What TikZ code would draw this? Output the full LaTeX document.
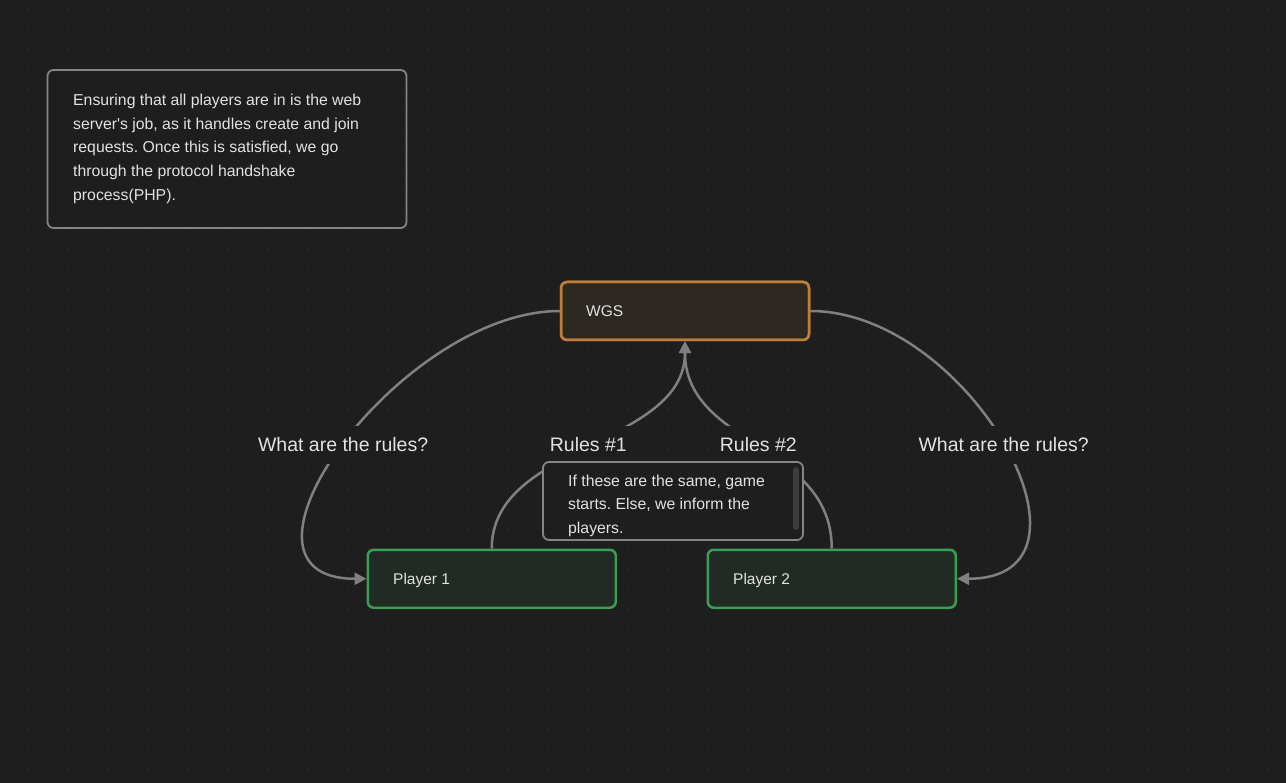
\documentclass[tikz,border=0pt]{standalone}
\usepackage{fontspec}
\setmainfont{Liberation Sans}
\usetikzlibrary{arrows.meta}
\frenchspacing
\definecolor{bg}{HTML}{1E1E1E}
\definecolor{dotc}{HTML}{303030}
\definecolor{edgec}{HTML}{808080}
\definecolor{notec}{HTML}{858585}
\definecolor{txt}{HTML}{E2E2E2}
\definecolor{wgsfill}{HTML}{2D2822}
\definecolor{wgsline}{HTML}{C07D38}
\definecolor{plfill}{HTML}{212B24}
\definecolor{plline}{HTML}{3A9F55}
\definecolor{scrollc}{HTML}{3C3C3C}
\tikzset{
  boxnode/.style={rounded corners=6pt, line width=2.5pt, minimum width=248pt, minimum height=58pt, inner sep=0pt},
  wgsbox/.style={boxnode, draw=wgsline, fill=wgsfill},
  plbox/.style={boxnode, draw=plline, fill=plfill},
  notebox/.style={rounded corners=6pt, line width=1.8pt, draw=notec, fill=bg, inner sep=0pt},
  boxtext/.style={text=txt, font=\fontsize{15.5}{18}\selectfont, anchor=base west, inner sep=0pt},
  notetext/.style={text=txt, font=\fontsize{15.8}{23.7}\selectfont, align=left, anchor=base west, inner sep=0pt},
  lbl/.style={text=txt, font=\fontsize{19.5}{22}\selectfont, fill=bg, inner xsep=6pt, inner ysep=12pt},
  conn/.style={draw=edgec, line width=2.5pt},
  tip/.style={-{Triangle[length=12pt,width=12pt]}},
}
\begin{document}
\begin{tikzpicture}[x=1pt,y=-1pt]
\fill[bg] (0,0) rectangle (1286,783);
\useasboundingbox (0,0) rectangle (1286,783);
\foreach \i in {0,...,64} {\foreach \j in {0,...,38} {\fill[dotc] (8+20*\i,9+20*\j) circle (0.8);}}
% nodes
\node[wgsbox] (wgs) at (685,311) {};
\node[boxtext] (wgst) at (586,316.5) {WGS};
\node[plbox] (p1) at (491.75,578.75) {};
\node[boxtext] (p1t) at (393,584.5) {Player 1};
\node[plbox] (p2) at (831.75,578.75) {};
\node[boxtext] (p2t) at (733,584.5) {Player 2};
% edges
\draw[conn,tip] (wgs.west) .. controls +(-160,0) and +(-160,0) .. node[lbl] (l1) {What are the rules?} (p1.west);
\draw[conn,tip] (wgs.east) .. controls +(160,0) and +(160,0) .. node[lbl] (l4) {What are the rules?} (p2.east);
\draw[conn,tip] (p1.north) .. controls +(0,-105) and +(0,105) .. node[lbl] (l2) {Rules \#1} (wgs.south);
\draw[conn,tip] (p2.north) .. controls +(0,-105) and +(0,105) .. node[lbl] (l3) {Rules \#2} (wgs.south);
% redraw node border on top of arrow tips
\node[wgsbox, fill=none] (wgsb) at (685,311) {};
% notes
\node[notebox, minimum width=359pt, minimum height=158pt] (n1) at (227,149) {};
\node[notetext] (n1t) at (73,200.3) {Ensuring that all players are in is the web\\server\textquotesingle s job, as it handles create and join\\requests. Once this is satisfied, we go\\through the protocol handshake\\process(PHP).};
\node[notebox, minimum width=260pt, minimum height=78pt] (n2) at (673,501) {};
\node[notetext] (n2t) at (568,533.5) {If these are the same, game\\starts. Else, we inform the\\players.};
\fill[scrollc, rounded corners=3pt] (793,467) rectangle (799,530);
\end{tikzpicture}
\end{document}
